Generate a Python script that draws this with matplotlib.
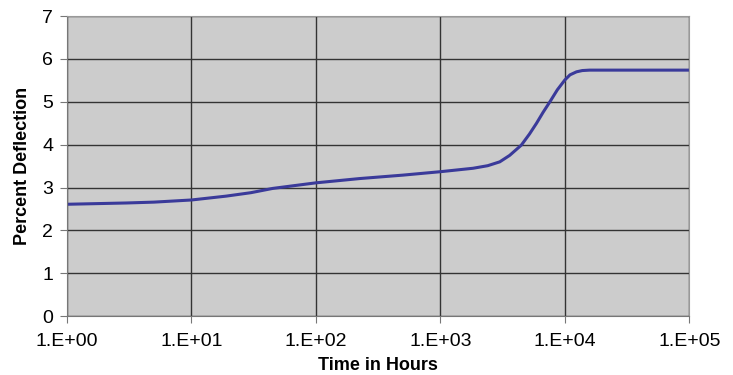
import matplotlib
matplotlib.use("Agg")
import matplotlib.pyplot as plt
from matplotlib.ticker import FixedLocator, FuncFormatter, NullLocator

plt.rcParams['font.family'] = ['Liberation Sans', 'DejaVu Sans']

# curve: time (hours) vs percent deflection
hours = [1, 3, 5, 10, 19, 30, 45, 65, 100, 225, 500, 1000, 1830, 2400, 3000,
         3600, 4470, 5200, 5920, 6700, 7580, 8700, 10000, 11000, 12400, 13800, 15800, 100000]
deflection = [2.61, 2.64, 2.66, 2.71, 2.80, 2.88, 2.98, 3.04, 3.11, 3.21, 3.29, 3.37, 3.45, 3.51, 3.60,
              3.75, 3.99, 4.25, 4.50, 4.76, 5.00, 5.28, 5.51, 5.63, 5.70, 5.73, 5.74, 5.74]

x_ticks = [1, 10, 100, 1000, 10000, 100000]
x_labels = ['1.E+00', '1.E+01', '1.E+02', '1.E+03', '1.E+04', '1.E+05']

fig = plt.figure(figsize=(7.33, 3.75), dpi=100)
ax = fig.add_axes([0.0914, 0.157, 0.849, 0.800])
ax.set_facecolor('#cccccc')

ax.plot(hours, deflection, color='#3a3a9a', linewidth=2.2, solid_joinstyle='round')

ax.set_xscale('log')
ax.set_xlim(1, 100000)
ax.set_ylim(0, 7)
ax.xaxis.set_major_locator(FixedLocator(x_ticks))
ax.xaxis.set_minor_locator(NullLocator())
ax.xaxis.set_major_formatter(FuncFormatter(lambda v, pos: x_labels[pos] if pos is not None and pos < len(x_labels) else ''))
ax.set_yticks(range(0, 8))

ax.grid(True, color='#333333', linewidth=1)
ax.set_axisbelow(True)

for side in ['top', 'right']:
    ax.spines[side].set_color('#999999')
for side in ['left', 'bottom']:
    ax.spines[side].set_color('#777777')
ax.tick_params(axis='both', direction='out', length=5, color='#777777', labelsize=14)
ax.tick_params(axis='x', pad=7)
ax.tick_params(axis='y', pad=5)

ax.set_xlabel('Time in Hours', fontsize=13, fontweight='bold', labelpad=5)
ax.set_ylabel('Percent Deflection', fontsize=13, fontweight='bold', labelpad=8)

fig.savefig('out.png', dpi=100)
